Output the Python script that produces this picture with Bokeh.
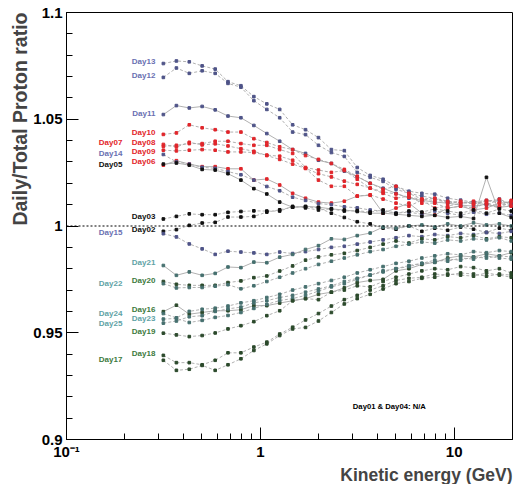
from bokeh.plotting import figure
from bokeh.models import FixedTicker, Span, Label, Title, ColumnDataSource
from bokeh.core.properties import value
from bokeh.embed import file_html
from bokeh.resources import INLINE

# ---------------- data ----------------
energy = [0.316, 0.369, 0.430, 0.501, 0.585, 0.681, 0.794, 0.926, 1.080, 1.259,
          1.468, 1.711, 1.995, 2.326, 2.712, 3.162, 3.687, 4.299, 5.012, 5.844,
          6.813, 7.943, 9.261, 10.80, 12.59, 14.68, 17.11, 19.7]

day13 = [1.0761, 1.0773, 1.0769, 1.0750, 1.0735, 1.0676, 1.0657, 1.0606, 1.0572, 1.0546, 1.0474, 1.0451, 1.0414, 1.0358,
         1.0353, 1.0274, 1.0237, 1.0219, 1.0186, 1.0163, 1.0153, 1.0149, 1.0130, 1.0121, 1.0112, 1.0120, 1.0116, 1.0107]
day12 = [1.0696, 1.0740, 1.0715, 1.0727, 1.0715, 1.0668, 1.0650, 1.0587, 1.0546, 1.0507, 1.0440, 1.0428, 1.0378, 1.0344,
         1.0326, 1.0251, 1.0228, 1.0209, 1.0172, 1.0153, 1.0140, 1.0130, 1.0116, 1.0107, 1.0112, 1.0098, 1.0126, 1.0102]
day11 = [1.0522, 1.0564, 1.0553, 1.0560, 1.0544, 1.0515, 1.0507, 1.0471, 1.0433, 1.0397, 1.0358, 1.0340, 1.0308, 1.0293,
         1.0257, 1.0231, 1.0200, 1.0177, 1.0153, 1.0130, 1.0120, 1.0112, 1.0107, 1.0098, 1.0093, 1.0102, 1.0088, 1.0093]
day10 = [1.0429, 1.0436, 1.0474, 1.0460, 1.0451, 1.0440, 1.0440, 1.0409, 1.0391, 1.0371, 1.0358, 1.0330, 1.0312, 1.0293,
         1.0265, 1.0233, 1.0200, 1.0172, 1.0186, 1.0153, 1.0126, 1.0130, 1.0107, 1.0116, 1.0102, 1.0120, 1.0107, 1.0093]
day08 = [1.0373, 1.0378, 1.0386, 1.0386, 1.0397, 1.0397, 1.0386, 1.0378, 1.0378, 1.0358, 1.0340, 1.0274, 1.0262, 1.0251,
         1.0260, 1.0219, 1.0177, 1.0153, 1.0130, 1.0140, 1.0107, 1.0107, 1.0084, 1.0093, 1.0084, 1.0107, 1.0093, 1.0120]
day09 = [1.0355, 1.0352, 1.0355, 1.0358, 1.0355, 1.0347, 1.0347, 1.0344, 1.0332, 1.0327, 1.0308, 1.0270, 1.0215, 1.0186,
         1.0186, 1.0140, 1.0146, 1.0126, 1.0107, 1.0093, 1.0121, 1.0084, 1.0093, 1.0107, 1.0116, 1.0102, 1.0084, 1.0116]
day07 = [1.0382, 1.0370, 1.0392, 1.0380, 1.0385, 1.0375, 1.0362, 1.0350, 1.0330, 1.0312, 1.0290, 1.0270, 1.0245, 1.0230,
         1.0210, 1.0195, 1.0178, 1.0160, 1.0150, 1.0135, 1.0125, 1.0120, 1.0115, 1.0110, 1.0105, 1.0115, 1.0125, 1.0095]
day06 = [1.0285, 1.0306, 1.0290, 1.0278, 1.0278, 1.0268, 1.0268, 1.0215, 1.0220, 1.0192, 1.0153, 1.0130, 1.0112, 1.0107,
         1.0116, 1.0140, 1.0144, 1.0060, 1.0084, 1.0107, 1.0060, 1.0051, 1.0084, 1.0093, 1.0075, 1.0084, 1.0107, 1.0111]
day14 = [1.0335, 1.0300, 1.0290, 1.0275, 1.0270, 1.0255, 1.0240, 1.0215, 1.0185, 1.0165, 1.0135, 1.0120, 1.0105, 1.0100,
         1.0090, 1.0085, 1.0075, 1.0070, 1.0060, 1.0065, 1.0055, 1.0070, 1.0060, 1.0050, 1.0065, 1.0055, 1.0060, 1.0050]
day05 = [1.0290, 1.0295, 1.0285, 1.0265, 1.0262, 1.0245, 1.0215, 1.0175, 1.0150, 1.0112, 1.0088, 1.0092, 1.0088, 1.0080,
         1.0075, 1.0068, 1.0060, 1.0060, 1.0055, 1.0050, 1.0045, 1.0050, 1.0040, 1.0045, 1.0035, 1.0228, 1.0060, 1.0040]
day03 = [1.0033, 1.0045, 1.0057, 1.0053, 1.0053, 1.0064, 1.0068, 1.0071, 1.0070, 1.0070, 1.0092, 1.0085, 1.0075, 1.0080,
         1.0070, 1.0072, 1.0065, 1.0075, 1.0060, 1.0070, 1.0065, 1.0080, 1.0070, 1.0060, 1.0075, 1.0060, 1.0080, 1.0070]
day02 = [0.9975, 0.9983, 1.0003, 1.0014, 1.0017, 1.0042, 1.0042, 1.0045, 1.0065, 1.0076, 1.0088, 1.0090, 1.0085, 1.0060,
         1.0040, 1.0020, 1.0010, 0.9990, 0.9985, 1.0000, 0.9975, 0.9990, 0.9980, 0.9995, 0.9985, 0.9970, 0.9990, 0.9980]
day15 = [0.9964, 0.9949, 0.9916, 0.9893, 0.9867, 0.9882, 0.9878, 0.9874, 0.9867, 0.9878, 0.9871, 0.9880, 0.9890, 0.9900,
         0.9905, 0.9915, 0.9925, 0.9935, 0.9945, 0.9955, 0.9950, 0.9960, 0.9955, 0.9965, 0.9960, 0.9970, 0.9965, 0.9975]
day21 = [0.9815, 0.9769, 0.9785, 0.9769, 0.9778, 0.9808, 0.9805, 0.9831, 0.9828, 0.9854, 0.9867, 0.9890, 0.9908, 0.9940,
         0.9937, 0.9955, 0.9967, 0.9995, 0.9990, 1.0000, 1.0005, 0.9995, 1.0010, 1.0000, 1.0015, 1.0005, 1.0010, 1.0000]
day20 = [0.9740, 0.9727, 0.9722, 0.9722, 0.9722, 0.9735, 0.9743, 0.9758, 0.9766, 0.9789, 0.9813, 0.9840, 0.9855, 0.9865,
         0.9872, 0.9885, 0.9900, 0.9915, 0.9930, 0.9920, 0.9940, 0.9935, 0.9950, 0.9945, 0.9955, 0.9940, 0.9950, 0.9945]
day22 = [0.9730, 0.9710, 0.9712, 0.9712, 0.9718, 0.9725, 0.9706, 0.9720, 0.9740, 0.9760, 0.9780, 0.9800, 0.9820, 0.9835,
         0.9850, 0.9865, 0.9880, 0.9890, 0.9905, 0.9915, 0.9925, 0.9920, 0.9935, 0.9930, 0.9940, 0.9935, 0.9945, 0.9930]
day16 = [0.9599, 0.9629, 0.9587, 0.9595, 0.9603, 0.9603, 0.9608, 0.9627, 0.9627, 0.9639, 0.9650, 0.9660, 0.9680, 0.9690,
         0.9710, 0.9735, 0.9745, 0.9750, 0.9790, 0.9800, 0.9820, 0.9830, 0.9850, 0.9860, 0.9855, 0.9870, 0.9860, 0.9875]
day23 = [0.9564, 0.9567, 0.9548, 0.9558, 0.9572, 0.9581, 0.9595, 0.9614, 0.9633, 0.9651, 0.9660, 0.9675, 0.9695, 0.9715,
         0.9730, 0.9750, 0.9770, 0.9785, 0.9800, 0.9815, 0.9825, 0.9840, 0.9835, 0.9850, 0.9845, 0.9860, 0.9850, 0.9845]
day24 = [0.9590, 0.9570, 0.9600, 0.9610, 0.9615, 0.9625, 0.9640, 0.9650, 0.9665, 0.9680, 0.9700, 0.9715, 0.9730, 0.9745,
         0.9760, 0.9780, 0.9795, 0.9810, 0.9825, 0.9835, 0.9850, 0.9860, 0.9870, 0.9865, 0.9880, 0.9875, 0.9885, 0.9880]
day25 = [0.9545, 0.9555, 0.9575, 0.9580, 0.9600, 0.9612, 0.9620, 0.9640, 0.9650, 0.9665, 0.9675, 0.9690, 0.9705, 0.9720,
         0.9740, 0.9755, 0.9770, 0.9790, 0.9800, 0.9810, 0.9825, 0.9830, 0.9845, 0.9840, 0.9855, 0.9850, 0.9860, 0.9855]
day19 = [0.9498, 0.9490, 0.9482, 0.9487, 0.9499, 0.9518, 0.9533, 0.9552, 0.9580, 0.9603, 0.9650, 0.9660, 0.9655, 0.9690,
         0.9700, 0.9720, 0.9715, 0.9740, 0.9760, 0.9775, 0.9790, 0.9800, 0.9795, 0.9810, 0.9805, 0.9790, 0.9800, 0.9780]
day18 = [0.9394, 0.9360, 0.9360, 0.9350, 0.9371, 0.9406, 0.9406, 0.9433, 0.9456, 0.9494, 0.9526, 0.9560, 0.9590, 0.9625,
         0.9655, 0.9675, 0.9700, 0.9720, 0.9745, 0.9755, 0.9760, 0.9775, 0.9770, 0.9780, 0.9775, 0.9765, 0.9775, 0.9770]
day17 = [0.9371, 0.9324, 0.9329, 0.9347, 0.9324, 0.9350, 0.9378, 0.9417, 0.9448, 0.9487, 0.9518, 0.9525, 0.9555, 0.9595,
         0.9635, 0.9660, 0.9680, 0.9705, 0.9730, 0.9740, 0.9755, 0.9760, 0.9775, 0.9770, 0.9765, 0.9780, 0.9770, 0.9760]

y_ticks = [0.9, 0.95, 1.0, 1.05, 1.1]
y_tick_labels = ["0.9", "0.95", "1", "1.05", "1.1"]
x_ticks = [0.1, 1.0, 10.0]
x_tick_labels = ["10\u207b\u00b9", "1", "10"]
note_text = "Day01 & Day04: N/A"

# ---------------- styles ----------------
FONT = "Liberation Sans"
groups = {
    "red":   dict(label="#e3262b", marker="#e0262b"),
    "blue":  dict(label="#6a70b2", marker="#4f5488"),
    "black": dict(label="#111111", marker="#111111"),
    "teal":  dict(label="#5fa3a6", marker="#46706f"),
    "green": dict(label="#3d7a3d", marker="#2c4a2c"),
}

# name, values, group, solid line?, label column, label nudge (px)
series = [
    ("Day13", day13, "blue", False, "R", -2),
    ("Day12", day12, "blue", False, "R", -2),
    ("Day11", day11, "blue", True, "R", -1),
    ("Day10", day10, "red", False, "R", -1.5),
    ("Day08", day08, "red", False, "R", -4),
    ("Day09", day09, "red", False, "R", 1),
    ("Day07", day07, "red", False, "L", -2),
    ("Day06", day06, "red", True, "R", -3.5),
    ("Day14", day14, "blue", False, "L", -1),
    ("Day05", day05, "black", True, "L", 0),
    ("Day03", day03, "black", False, "R", -2.5),
    ("Day02", day02, "black", False, "R", -1.5),
    ("Day15", day15, "blue", False, "L", -1.5),
    ("Day21", day21, "teal", True, "R", -2.5),
    ("Day20", day20, "green", False, "R", -1.5),
    ("Day22", day22, "teal", False, "L", 0),
    ("Day16", day16, "green", True, "R", -2.5),
    ("Day23", day23, "teal", False, "R", -0.5),
    ("Day24", day24, "teal", False, "L", 0),
    ("Day25", day25, "teal", False, "L", 0),
    ("Day19", day19, "green", False, "R", -1.5),
    ("Day18", day18, "green", False, "R", -1.5),
    ("Day17", day17, "green", False, "L", -1),
]

p = figure(width=514, height=484, x_axis_type="log", x_range=(0.1, 20), y_range=(0.9, 1.1),
           output_backend="svg", toolbar_location=None, title_location=None,
           min_border_left=66, min_border_top=12, min_border_right=2, min_border_bottom=44)
p.background_fill_color = "white"
p.border_fill_color = "white"
p.outline_line_color = "black"
p.outline_line_width = 1
p.xgrid.visible = False
p.ygrid.visible = False

# axes
for ax in (p.xaxis[0], p.yaxis[0]):
    ax.major_tick_in = 12
    ax.major_tick_out = 0
    ax.minor_tick_in = 6
    ax.minor_tick_out = 0
    ax.major_tick_line_color = "black"
    ax.minor_tick_line_color = "black"
    ax.axis_line_color = "black"
    ax.major_label_text_font = FONT
    ax.major_label_text_font_style = "bold"
    ax.major_label_text_font_size = "15px"
    ax.major_label_text_color = "black"

p.yaxis.ticker = FixedTicker(ticks=y_ticks, minor_ticks=[0.9 + 0.01 * k for k in range(21)])
p.yaxis.major_label_overrides = {t: s for t, s in zip(y_ticks, y_tick_labels)}
p.yaxis.major_label_standoff = 4
p.xaxis.ticker = FixedTicker(ticks=x_ticks,
                             minor_ticks=[m * d for d in (0.1, 1.0, 10.0) for m in range(2, 10)])
p.xaxis.major_label_overrides = {t: s for t, s in zip(x_ticks, x_tick_labels)}
p.xaxis.major_label_standoff = 3

# dashed reference line at ratio 1
p.add_layout(Span(location=1.0, dimension="width", line_color="black", line_width=1, line_dash="2 2"))

# series
for name, vals, grp, solid, col, nudge in series:
    p.line(energy, vals, line_color="#a8a8a8", line_width=0.9,
           line_dash="solid" if solid else "3 2")
for name, vals, grp, solid, col, nudge in series:
    p.scatter(energy, vals, marker="square", size=2.6,
              fill_color=groups[grp]["marker"], line_color=groups[grp]["marker"])

# day labels
for colname, xoff in (("R", -8), ("L", -41)):
    rows = [s for s in series if s[4] == colname]
    src = ColumnDataSource(dict(
        x=[energy[0]] * len(rows),
        y=[s[1][0] for s in rows],
        text=[s[0] for s in rows],
        color=[groups[s[2]]["label"] for s in rows],
        yoff=[s[5] for s in rows],
    ))
    p.text(x="x", y="y", text="text", source=src, text_color="color",
           x_offset=xoff, y_offset="yoff", text_align="right", text_baseline="middle",
           text_font=value(FONT), text_font_style="bold", text_font_size="8px")

p.add_layout(Label(x=3.0, y=0.9155, text=note_text, text_font=FONT, text_font_style="bold",
                   text_font_size="7.7px", text_align="left", text_baseline="middle",
                   text_color="black"))

# axis titles
p.add_layout(Title(text="Kinetic energy (GeV)", align="right", text_font=FONT,
                   text_font_style="bold", text_font_size="17.5px", standoff=0, offset=0), "below")
p.add_layout(Title(text="Daily/Total Proton ratio", align="right", text_font=FONT,
                   text_font_style="bold", text_font_size="19.5px", standoff=0, offset=0), "left")

open("out.html", "w").write(file_html(p, INLINE))
